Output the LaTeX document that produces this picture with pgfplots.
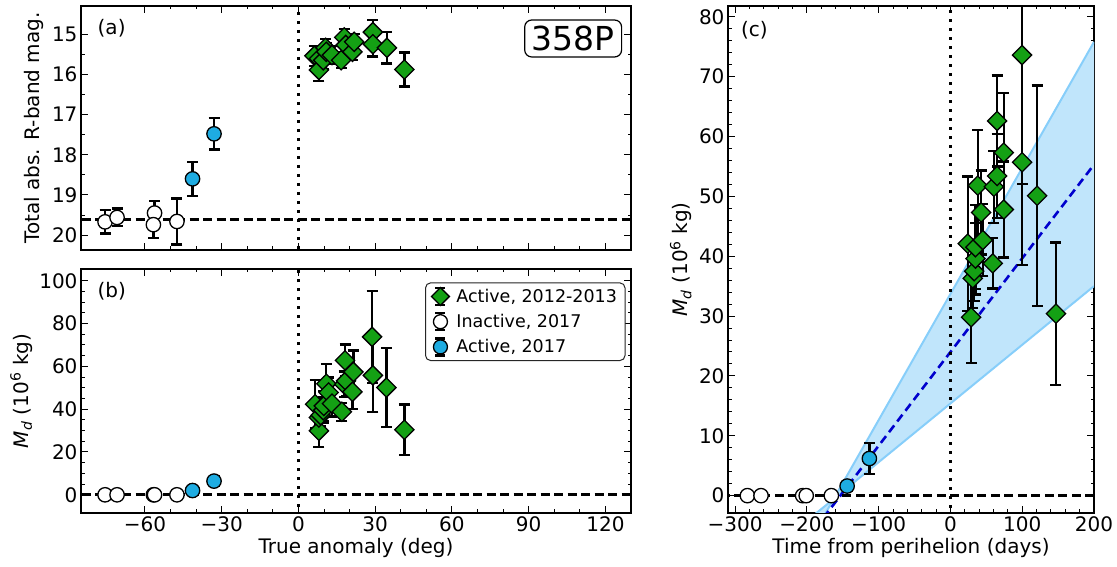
\documentclass[border=0pt]{standalone}
\usepackage{fontspec}
\setmainfont{DejaVu Sans}
\usepackage{pgfplots}
\usepackage{pgfplotstable}
\pgfplotsset{compat=1.18}
\definecolor{mgreen}{RGB}{20,160,20}
\definecolor{mblue}{RGB}{30,172,226}
\definecolor{bandfill}{RGB}{192,229,251}
\definecolor{bandline}{RGB}{135,206,250}
\definecolor{fitblue}{RGB}{0,0,205}

% ---------- data ----------
\pgfplotstableread{
x y e
-75.6 19.67 0.29
-70.9 19.56 0.22
-56.25 19.45 0.30
-56.7 19.74 0.34
-47.5 19.66 0.57
}\aIn
\pgfplotstableread{
x y e
-41.4 18.60 0.42
-33.0 17.48 0.39
}\aBl
\pgfplotstableread{
x y e
6.25 15.54 0.25
8.0 15.61 0.22
8.0 15.89 0.27
9.7 15.65 0.22
10.6 15.34 0.22
10.9 15.44 0.22
13.1 15.52 0.22
16.7 15.65 0.20
17.9 15.08 0.20
18.5 15.27 0.20
21.1 15.44 0.20
21.8 15.19 0.20
29.1 14.95 0.31
29.1 15.25 0.31
34.6 15.34 0.39
41.4 15.88 0.42
}\aGr

\pgfplotstableread{
x y e
-75.6 0 0.3
-70.9 0 0.3
-56.7 0 0.3
-56.25 0 0.3
-47.5 0 0.3
}\bIn
\pgfplotstableread{
x y e
-41.4 2.0 0.8
-33.0 6.4 2.2
}\bBl
\pgfplotstableread{
x y e
6.5 42.3 11.2
8.0 29.9 7.7
8.0 36.1 5.0
8.7 37.2 5.0
9.7 39.5 6.0
9.9 41.5 7.0
10.9 51.9 9.3
11.8 47.8 7.0
13.1 42.6 6.0
17.0 38.8 4.2
17.9 51.6 6.0
18.2 62.8 7.4
18.6 53.2 7.0
21.1 48.1 8.1
21.5 57.4 10.0
28.8 73.8 21.5
29.1 55.8 17.2
34.4 50.1 18.4
41.4 30.4 11.8
}\bGr

\pgfplotstableread{
x y e
-283 0 0.3
-264 0 0.3
-206 0 0.3
-201 0 0.3
-166 0 0.3
}\cIn
\pgfplotstableread{
x y e
-144 1.6 0.8
-113 6.2 2.6
}\cBl
\pgfplotstableread{
x y e
24.0 42.1 11.2
28.8 29.8 7.7
31.0 36.3 5.0
33.0 37.5 5.0
34.8 39.6 6.0
34.8 41.5 7.0
38.0 51.8 9.3
42.7 47.3 7.0
45.0 42.7 6.0
59.0 38.8 4.2
60.4 51.6 6.0
65.0 62.6 7.6
65.0 53.4 7.0
74.3 47.8 8.0
74.3 57.3 10.0
99.8 73.6 21.5
99.8 55.7 17.2
120.7 50.1 18.4
147.0 30.4 11.9
}\cGr

\pgfplotsset{
  panel/.style={
    scale only axis,
    anchor=south west,
    axis line style={line width=1.3pt, black},
    tick align=inside,
    major tick length=7pt,
    minor tick length=3.5pt,
    every tick/.style={black, line width=1pt},
    tick label style={font=\fontsize{20}{24}\selectfont},
    label style={font=\fontsize{20}{24}\selectfont},
    /pgf/number format/assume math mode=true,
  },
  errs/.style={only marks, mark=none, forget plot,
    error bars/.cd, y dir=both, y explicit,
    error bar style={line width=2.3pt, black},
    error mark=|, error mark options={mark size=5.5pt, line width=2.3pt, black}},
  grD/.style={only marks, forget plot, mark=square*, mark size=6.8pt,
    mark options={rotate=45, fill=mgreen, draw=black, line width=1.3pt}},
  whC/.style={only marks, forget plot, mark=*, mark size=7.2pt,
    mark options={fill=white, draw=black, line width=1.3pt}},
  blC/.style={only marks, forget plot, mark=*, mark size=7.2pt,
    mark options={fill=mblue, draw=black, line width=1.3pt}},
  dashk/.style={black, line width=2.8pt, dash pattern=on 9pt off 4.5pt, forget plot},
  dotk/.style={black, line width=3pt, dash pattern=on 3pt off 6pt, forget plot},
}

\newcommand{\legimg}[1]{%
  \draw[black, line width=2.2pt] (0.4cm,-8.5pt) -- (0.4cm,8.5pt);
  \draw[black, line width=2.2pt] (0.4cm-5pt,-8.5pt) -- (0.4cm+5pt,-8.5pt);
  \draw[black, line width=2.2pt] (0.4cm-5pt,8.5pt) -- (0.4cm+5pt,8.5pt);
  \draw plot[only marks, #1] coordinates {(0.4cm,0cm)};}

\begin{document}
\begin{tikzpicture}
\path[use as bounding box] (0pt,0pt) rectangle (1117pt,567pt);

% ---------------- panel (a) ----------------
\begin{axis}[panel, at={(81pt,317pt)}, width=550pt, height=244pt,
  xmin=-85, xmax=130, ymin=14.3, ymax=20.37, y dir=reverse,
  xtick={-60,-30,0,30,60,90,120}, xticklabels={}, minor x tick num=2,
  ytick={15,16,17,18,19,20}, minor y tick num=1,
  ylabel={Total abs. R-band mag.},
  ylabel style={at={(axis description cs:-0.085,0.5)}, anchor=center},
]
\addplot[dashk] coordinates {(-90,19.61) (135,19.61)};
\addplot[dotk] coordinates {(0,14) (0,21)};
\addplot[errs] table[x=x,y=y,y error=e] {\aIn};
\addplot[errs] table[x=x,y=y,y error=e] {\aBl};
\addplot[errs] table[x=x,y=y,y error=e] {\aGr};
\addplot[whC] table[x=x,y=y] {\aIn};
\addplot[blC] table[x=x,y=y] {\aBl};
\addplot[grD] table[x=x,y=y] {\aGr};
\node[anchor=north west, inner sep=0pt, font=\fontsize{20}{24}\selectfont] at (rel axis cs:0.03,0.945) {(a)};
\node[anchor=north east, draw=black, line width=1.2pt, rounded corners=7pt, inner xsep=7pt, inner ysep=6pt, font=\fontsize{33}{36}\selectfont] at (rel axis cs:0.984,0.945) {358P};
\end{axis}

% ---------------- panel (b) ----------------
\begin{axis}[panel, at={(81pt,54pt)}, width=550pt, height=244pt,
  xmin=-85, xmax=130, ymin=-8.5, ymax=105.5,
  xtick={-60,-30,0,30,60,90,120}, xticklabels={−60,−30,0,30,60,90,120}, minor x tick num=2,
  ytick={0,20,40,60,80,100}, minor y tick num=3,
  xlabel={True anomaly (deg)},
  ylabel={\textit{M}\textsubscript{\textit{d}} (10\textsuperscript{6} kg)},
  legend style={at={(0.99,0.945)}, anchor=north east, draw=black!85, line width=1pt,
    rounded corners=5pt, font=\fontsize{17.5}{21}\selectfont, inner xsep=6pt, inner ysep=4pt,
    row sep=6pt, /tikz/every odd column/.append style={column sep=5pt}},
  legend cell align=left,
]
\addplot[dashk] coordinates {(-90,0) (135,0)};
\addplot[dotk] coordinates {(0,-10) (0,110)};
\addplot[errs] table[x=x,y=y,y error=e] {\bIn};
\addplot[errs] table[x=x,y=y,y error=e] {\bBl};
\addplot[errs] table[x=x,y=y,y error=e] {\bGr};
\addplot[whC] table[x=x,y=y] {\bIn};
\addplot[blC] table[x=x,y=y] {\bBl};
\addplot[grD] table[x=x,y=y] {\bGr};
\addlegendimage{legend image code/.code={\legimg{mark=square*, mark size=6.3pt, mark options={rotate=45, fill=mgreen, draw=black, line width=1.3pt}}}}
\addlegendentry{Active, 2012-2013}
\addlegendimage{legend image code/.code={\legimg{mark=*, mark size=7pt, mark options={fill=white, draw=black, line width=1.3pt}}}}
\addlegendentry{Inactive, 2017}
\addlegendimage{legend image code/.code={\legimg{mark=*, mark size=7pt, mark options={fill=mblue, draw=black, line width=1.3pt}}}}
\addlegendentry{Active, 2017}
\node[anchor=north west, inner sep=0pt, font=\fontsize{20}{24}\selectfont] at (rel axis cs:0.03,0.945) {(b)};
\end{axis}

% ---------------- panel (c) ----------------
\begin{axis}[panel, at={(728pt,54pt)}, width=366pt, height=507pt,
  xmin=-310, xmax=200, ymin=-2.9, ymax=81.8,
  xtick={-300,-200,-100,0,100,200}, xticklabels={−300,−200,−100,0,100,200}, minor x tick num=4,
  ytick={0,10,20,30,40,50,60,70,80}, minor y tick num=4,
  xlabel={Time from perihelion (days)},
  ylabel={\textit{M}\textsubscript{\textit{d}} (10\textsuperscript{6} kg)},
]
\addplot[fill=bandfill, draw=none, forget plot] coordinates {(-200,-8.4) (200,75.8) (200,35.0) (-200,-4.2)} -- cycle;
\addplot[bandline, line width=2pt, forget plot] coordinates {(-200,-8.4) (200,75.8)};
\addplot[bandline, line width=2pt, forget plot] coordinates {(-200,-4.2) (200,35.0)};
\addplot[fitblue, line width=2.6pt, dash pattern=on 8.5pt off 5pt, forget plot] coordinates {(-200,-7.3) (200,55.3)};
\addplot[dashk] coordinates {(-320,0) (210,0)};
\addplot[dotk] coordinates {(0,-5) (0,85)};
\addplot[errs] table[x=x,y=y,y error=e] {\cIn};
\addplot[errs] table[x=x,y=y,y error=e] {\cBl};
\addplot[errs] table[x=x,y=y,y error=e] {\cGr};
\addplot[whC] table[x=x,y=y] {\cIn};
\addplot[blC] table[x=x,y=y] {\cBl};
\addplot[grD] table[x=x,y=y] {\cGr};
\node[anchor=north west, inner sep=0pt, font=\fontsize{20}{24}\selectfont] at (rel axis cs:0.035,0.97) {(c)};
\end{axis}
\end{tikzpicture}
\end{document}
